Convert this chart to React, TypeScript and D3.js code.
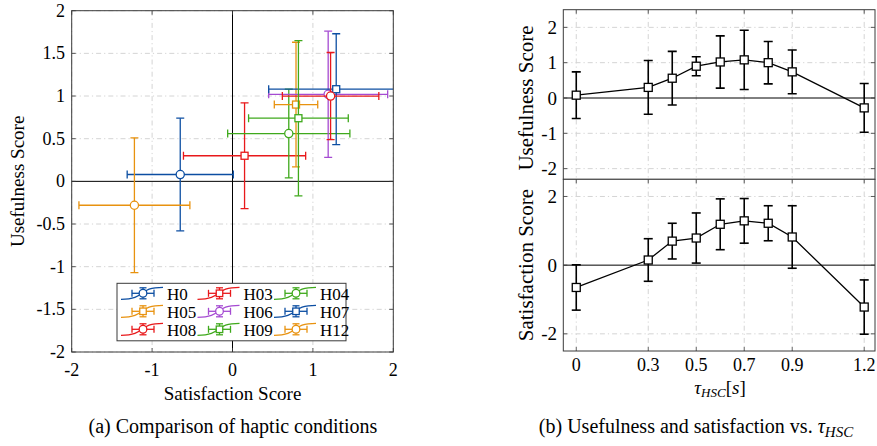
import React from 'react';
import * as d3 from 'd3';

// haptic conditions, one per tau value
const conditions = ['H0', 'H03', 'H04', 'H05', 'H06', 'H07', 'H08', 'H09', 'H12'];
const tau = [0, 0.3, 0.4, 0.5, 0.6, 0.7, 0.8, 0.9, 1.2];
const usefulMean = [0.08, 0.3, 0.56, 0.9, 1.02, 1.08, 1.0, 0.74, -0.28];
const usefulErr = [0.66, 0.76, 0.76, 0.27, 0.74, 0.84, 0.6, 0.62, 0.69];
const satMean = [-0.65, 0.15, 0.7, 0.79, 1.19, 1.29, 1.22, 0.82, -1.22];
const satErr = [0.66, 0.62, 0.52, 0.73, 0.74, 0.65, 0.51, 0.91, 0.79];

const condColors = ['#0c4ea2', '#e8191b', '#3fa91c', '#e8920f', '#a54bd2', '#0c4ea2', '#e8191b', '#3fa91c', '#e8920f'];
const condMarkers = ['circle', 'square', 'circle', 'square', 'circle', 'square', 'circle', 'square', 'circle'];

const leftTicks = [-2, -1.5, -1, -0.5, 0, 0.5, 1, 1.5, 2];
const leftXTicks = [-2, -1, 0, 1, 2];
const rightXTicks = [0, 0.3, 0.5, 0.7, 0.9, 1.2];
const topYTicks = [-2, -1, 0, 1, 2];
const botYTicks = [-2, 0, 2];

const FONT = '"Liberation Serif", "Times New Roman", serif';
const GRID = '#d4d4d4';
const FRAME = '#3a3a3a';
const DASH = '5,3,1.2,3';
const TICK = 4;

function fmt(v: number) {
  return String(v);
}

function Marker({ type, x, y, size, color, sw }: any) {
  if (type === 'circle') {
    return <circle cx={x} cy={y} r={size / 2 + 0.6} fill="#fff" stroke={color} strokeWidth={sw} />;
  }
  return <rect x={x - size / 2} y={y - size / 2} width={size} height={size} fill="#fff" stroke={color} strokeWidth={sw} />;
}

function ErrBar({ x1, y1, x2, y2, cap, color, sw, horizontal }: any) {
  // vertical (x1==x2) or horizontal bar with caps
  return (
    <g stroke={color} strokeWidth={sw} fill="none">
      <line x1={x1} y1={y1} x2={x2} y2={y2} />
      {horizontal ? (
        <>
          <line x1={x1} y1={y1 - cap} x2={x1} y2={y1 + cap} />
          <line x1={x2} y1={y2 - cap} x2={x2} y2={y2 + cap} />
        </>
      ) : (
        <>
          <line x1={x1 - cap} y1={y1} x2={x1 + cap} y2={y1} />
          <line x1={x2 - cap} y1={y2} x2={x2 + cap} y2={y2} />
        </>
      )}
    </g>
  );
}

function Frame({ x, y, xTicks, yTicks, top, bottom, left, right, zeroX }: any) {
  return (
    <g>
      <rect x={left} y={top} width={right - left} height={bottom - top} fill="#fff" />
      {xTicks.map((t: number) =>
        zeroX && t === 0 ? null : (
          <line key={'gx' + t} x1={x(t)} x2={x(t)} y1={top} y2={bottom} stroke={GRID} strokeWidth={1} strokeDasharray={DASH} />
        )
      )}
      {yTicks.map((t: number) =>
        t === 0 ? null : (
          <line key={'gy' + t} x1={left} x2={right} y1={y(t)} y2={y(t)} stroke={GRID} strokeWidth={1} strokeDasharray={DASH} />
        )
      )}
      <line x1={left} x2={right} y1={y(0)} y2={y(0)} stroke="#000" strokeWidth={1} />
      {zeroX && <line x1={x(0)} x2={x(0)} y1={top} y2={bottom} stroke="#000" strokeWidth={1} />}
      {xTicks.map((t: number) => (
        <g key={'tx' + t} stroke={FRAME} strokeWidth={0.8}>
          <line x1={x(t)} x2={x(t)} y1={bottom} y2={bottom - TICK} />
          <line x1={x(t)} x2={x(t)} y1={top} y2={top + TICK} />
        </g>
      ))}
      {yTicks.map((t: number) => (
        <g key={'ty' + t} stroke={FRAME} strokeWidth={0.8}>
          <line x1={left} x2={left + TICK} y1={y(t)} y2={y(t)} />
          <line x1={right} x2={right - TICK} y1={y(t)} y2={y(t)} />
        </g>
      ))}
    </g>
  );
}

export default function App() {
  // left: comparison of haptic conditions
  const lx = d3.scaleLinear().domain([-2, 2]).range([71.7, 393.3]);
  const ly = d3.scaleLinear().domain([-2, 2]).range([352, 10.7]);
  const L = { left: 71.7, right: 393.3, top: 10.7, bottom: 352 };

  // right: two stacked panels sharing tau axis
  const rx = d3.scaleLinear().domain([-0.054, 1.245]).range([563.3, 875]);
  const ryTop = d3.scaleLinear().domain([-2.5, 2.5]).range([186.3, 9.7]);
  const ryBot = d3.scaleLinear().domain([-2.5, 2.5]).range([351, 179.3]);
  const RT = { left: 563.3, right: 875, top: 9.7, bottom: 179.3 };
  const RB = { left: 563.3, right: 875, top: 179.3, bottom: 351 };

  const lineTop = d3.line<number>().x((d, i) => rx(tau[i])).y((d) => ryTop(d));
  const lineBot = d3.line<number>().x((d, i) => rx(tau[i])).y((d) => ryBot(d));

  const legX = [121, 197.5, 274];
  const legY = [293.3, 311.3, 329.3];

  return (
    <svg width={877} height={446} style={{ position: 'absolute', left: 0, top: 0, background: '#fff' }} fontFamily={FONT}>
      <defs>
        <clipPath id="clipL">
          <rect x={L.left} y={L.top} width={L.right - L.left} height={L.bottom - L.top} />
        </clipPath>
        <clipPath id="clipRT">
          <rect x={RT.left} y={RT.top} width={RT.right - RT.left} height={RT.bottom - RT.top} />
        </clipPath>
      </defs>

      {/* ---------- left plot ---------- */}
      <Frame x={lx} y={ly} xTicks={leftXTicks} yTicks={leftTicks} {...L} zeroX />
      <g clipPath="url(#clipL)">
        {conditions.map((c, i) => {
          const cx = lx(satMean[i]);
          const cy = ly(usefulMean[i]);
          const col = condColors[i];
          return (
            <g key={c}>
              <ErrBar x1={lx(satMean[i] - usefulErr[i])} x2={lx(satMean[i] + usefulErr[i])} y1={cy} y2={cy} cap={4} color={col} sw={1.3} horizontal />
              <ErrBar x1={cx} x2={cx} y1={ly(usefulMean[i] + satErr[i])} y2={ly(usefulMean[i] - satErr[i])} cap={4} color={col} sw={1.3} />
              <Marker type={condMarkers[i]} x={cx} y={cy} size={7} color={col} sw={1.3} />
            </g>
          );
        })}
      </g>
      <rect x={L.left} y={L.top} width={L.right - L.left} height={L.bottom - L.top} fill="none" stroke={FRAME} strokeWidth={1} />
      {leftTicks.map((t) => (
        <text key={'ly' + t} x={65} y={ly(t)} textAnchor="end" dominantBaseline="central" fontSize={18}>
          {fmt(t)}
        </text>
      ))}
      {leftXTicks.map((t) => (
        <text key={'lx' + t} x={lx(t)} y={376} textAnchor="middle" fontSize={18}>
          {fmt(t)}
        </text>
      ))}
      <text x={lx(0)} y={400} textAnchor="middle" fontSize={19}>Satisfaction Score</text>
      <text transform={`translate(24,${ly(0)}) rotate(-90)`} textAnchor="middle" fontSize={19}>Usefulness Score</text>

      {/* legend */}
      <rect x={117} y={283.3} width={229} height={57.5} fill="#fff" stroke={FRAME} strokeWidth={1} />
      {conditions.map((c, i) => {
        const x0 = legX[i % 3];
        const y0 = legY[Math.floor(i / 3)];
        const col = condColors[i];
        const mx = x0 + 22;
        return (
          <g key={'leg' + c}>
            <path d={`M${x0},${y0 + 6} C${x0 + 26},${y0 + 6} ${x0 + 16},${y0 - 6} ${x0 + 42},${y0 - 6}`} fill="none" stroke={col} strokeWidth={1.3} />
            <ErrBar x1={mx - 11} x2={mx + 11} y1={y0} y2={y0} cap={3.5} color={col} sw={1.3} horizontal />
            <ErrBar x1={mx} x2={mx} y1={y0 - 5.5} y2={y0 + 5.5} cap={3.5} color={col} sw={1.3} />
            <Marker type={condMarkers[i]} x={mx} y={y0} size={6.5} color={col} sw={1.3} />
            <text x={x0 + 46} y={y0 + 1} dominantBaseline="central" fontSize={17}>{c}</text>
          </g>
        );
      })}

      <text x={233} y={433} textAnchor="middle" fontSize={20}>(a) Comparison of haptic conditions</text>

      {/* ---------- right top: usefulness ---------- */}
      <g clipPath="url(#clipRT)">
        <Frame x={rx} y={ryTop} xTicks={rightXTicks} yTicks={topYTicks} left={RT.left} right={RT.right} top={RT.top} bottom={RT.bottom + 10} />
        <path d={lineTop(usefulMean) || ''} fill="none" stroke="#000" strokeWidth={1.3} />
        {tau.map((t, i) => (
          <g key={'ut' + t}>
            <ErrBar x1={rx(t)} x2={rx(t)} y1={ryTop(usefulMean[i] + usefulErr[i])} y2={ryTop(usefulMean[i] - usefulErr[i])} cap={4.5} color="#000" sw={1.6} />
            <Marker type="square" x={rx(t)} y={ryTop(usefulMean[i])} size={8} color="#000" sw={1.3} />
          </g>
        ))}
      </g>
      <rect x={RT.left} y={RT.top} width={RT.right - RT.left} height={RT.bottom - RT.top} fill="none" stroke={FRAME} strokeWidth={1} />
      {topYTicks.map((t) => (
        <text key={'ry' + t} x={557} y={ryTop(t)} textAnchor="end" dominantBaseline="central" fontSize={19}>
          {fmt(t)}
        </text>
      ))}
      <text transform={`translate(533,${ryTop(0)}) rotate(-90)`} textAnchor="middle" fontSize={21}>Usefulness Score</text>

      {/* ---------- right bottom: satisfaction ---------- */}
      <Frame x={rx} y={ryBot} xTicks={rightXTicks} yTicks={botYTicks} {...RB} />
      <path d={lineBot(satMean) || ''} fill="none" stroke="#000" strokeWidth={1.3} />
      {tau.map((t, i) => (
        <g key={'st' + t}>
          <ErrBar x1={rx(t)} x2={rx(t)} y1={ryBot(satMean[i] + satErr[i])} y2={ryBot(satMean[i] - satErr[i])} cap={4.5} color="#000" sw={1.6} />
          <Marker type="square" x={rx(t)} y={ryBot(satMean[i])} size={8} color="#000" sw={1.3} />
        </g>
      ))}
      <rect x={RB.left} y={RB.top} width={RB.right - RB.left} height={RB.bottom - RB.top} fill="none" stroke={FRAME} strokeWidth={1} />
      {botYTicks.map((t) => (
        <text key={'by' + t} x={557} y={ryBot(t)} textAnchor="end" dominantBaseline="central" fontSize={19}>
          {fmt(t)}
        </text>
      ))}
      <text transform={`translate(533,${ryBot(0)}) rotate(-90)`} textAnchor="middle" fontSize={21}>Satisfaction Score</text>
      {rightXTicks.map((t) => (
        <text key={'rx' + t} x={rx(t)} y={371} textAnchor="middle" fontSize={18}>
          {fmt(t)}
        </text>
      ))}
      <text x={720} y={394} textAnchor="middle" fontSize={19}>
        <tspan fontStyle="italic">τ</tspan>
        <tspan fontStyle="italic" fontSize={13} dy={3}>HSC</tspan>
        <tspan dy={-3}>[</tspan>
        <tspan fontStyle="italic">s</tspan>
        <tspan>]</tspan>
      </text>
      <text x={696} y={433} textAnchor="middle" fontSize={20}>
        <tspan>(b) Usefulness and satisfaction vs. </tspan>
        <tspan fontStyle="italic">τ</tspan>
        <tspan fontStyle="italic" fontSize={15} dy={4}>HSC</tspan>
      </text>
    </svg>
  );
}
